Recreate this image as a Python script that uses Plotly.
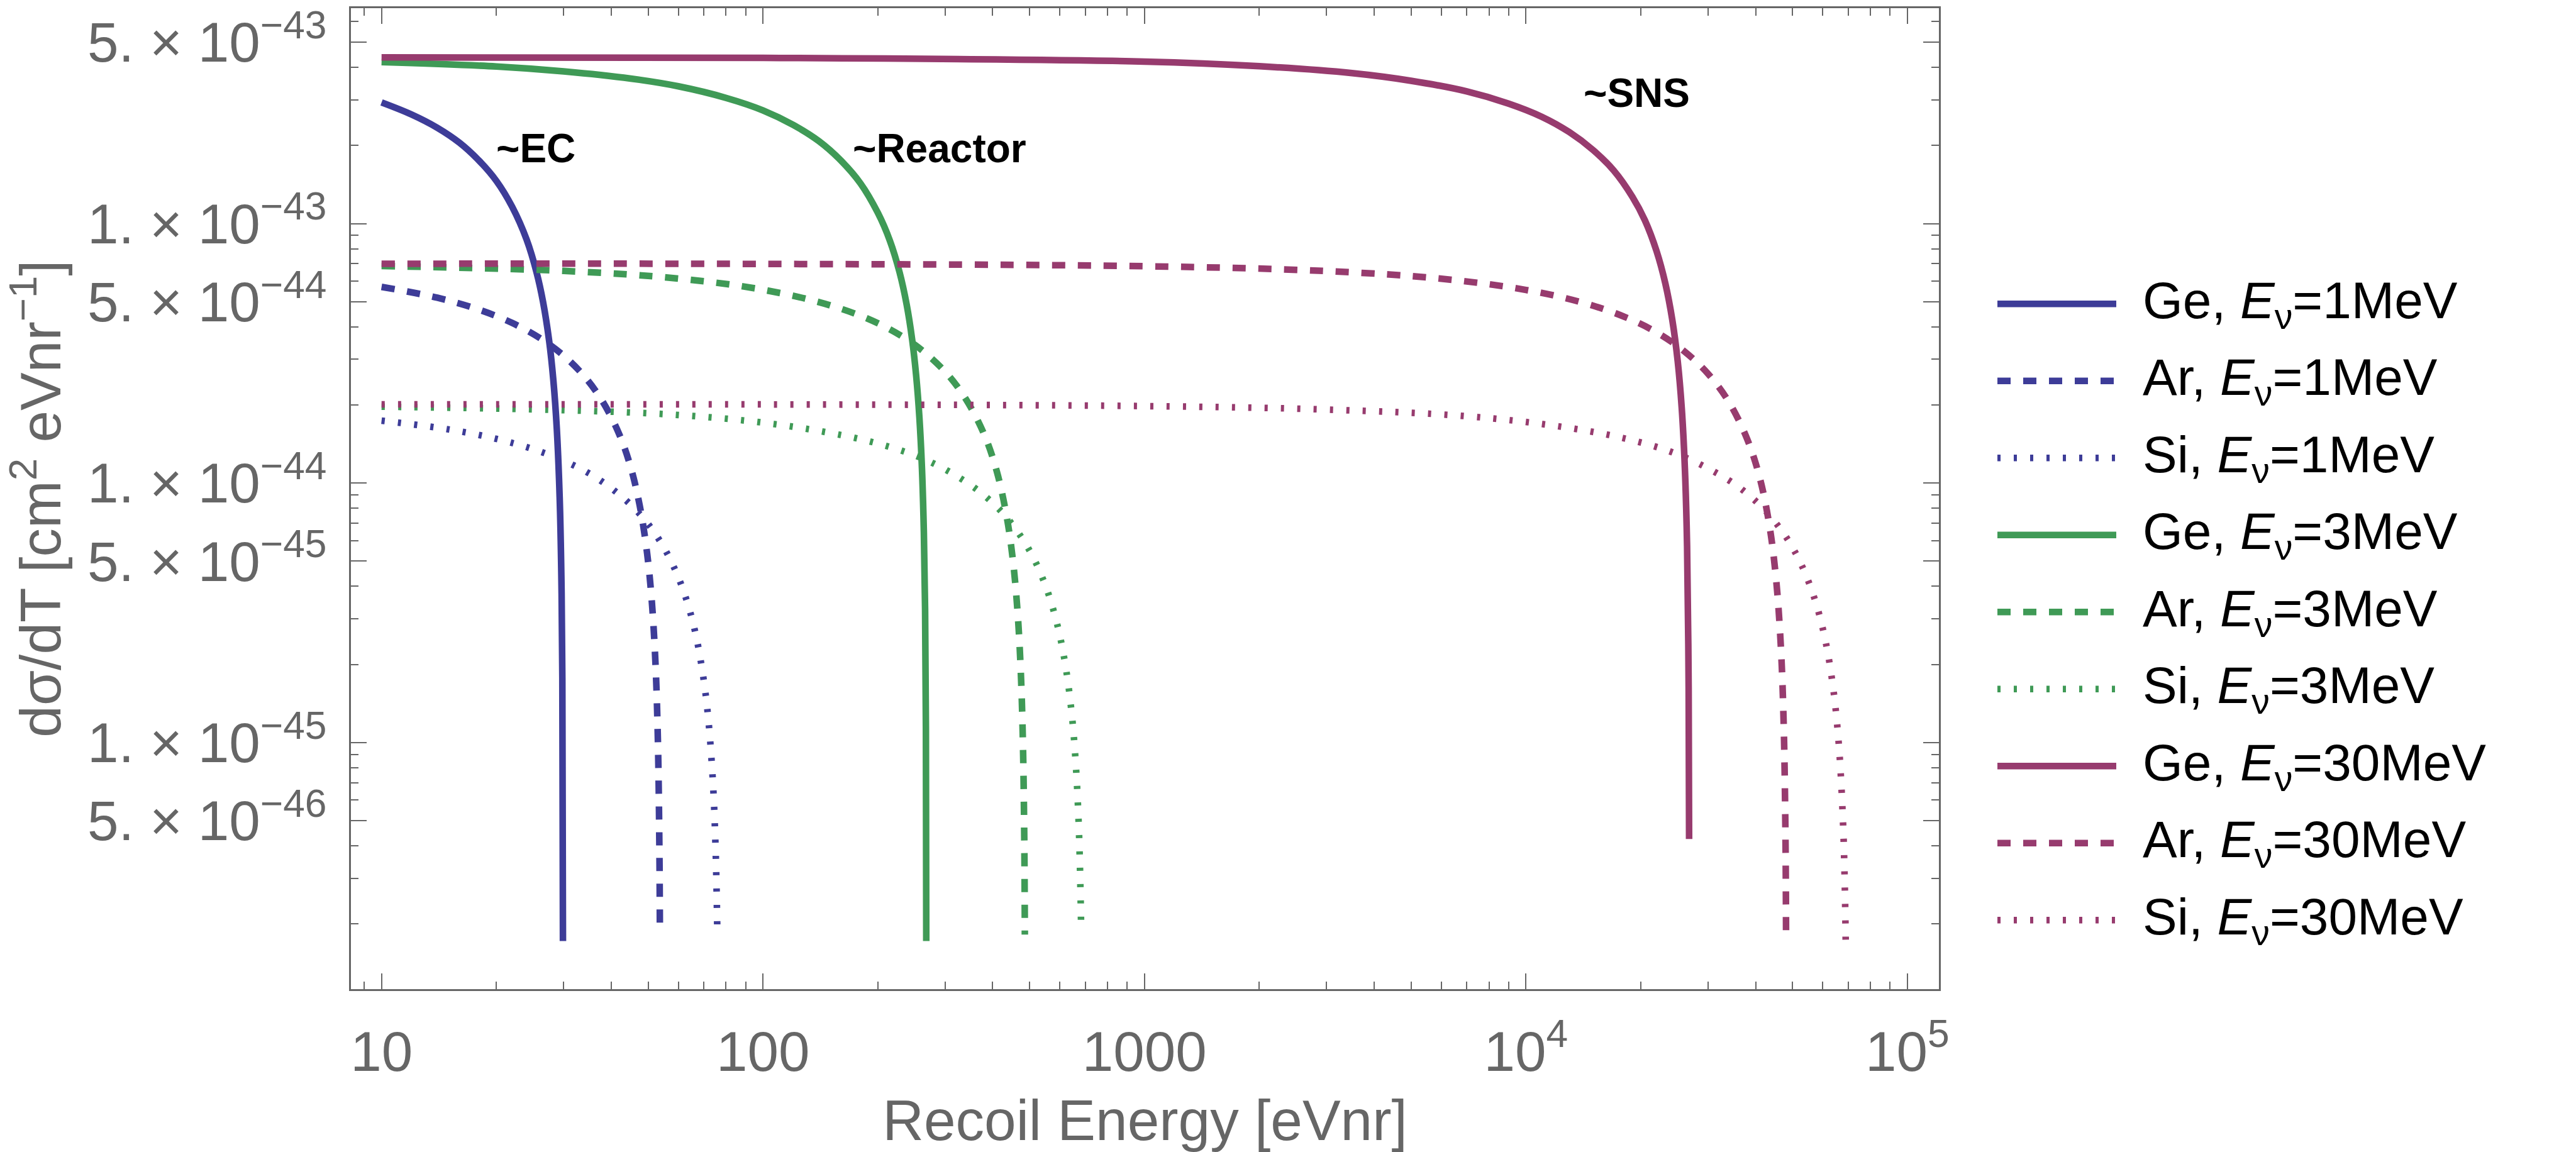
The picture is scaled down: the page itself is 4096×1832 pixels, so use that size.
import math
import plotly.graph_objects as go

# ---------------- data ----------------
# Recoil energy T [eVnr] and dsigma/dT [cm^2 eVnr^-1]
T_Ge_1MeV = [10, 12, 14, 16, 18, 20, 22, 24, 25.5, 26.5, 27.5, 28.2, 28.8, 29.3, 29.6, 29.78, 29.888]
S_Ge_1MeV = [2.93e-43, 2.63e-43, 2.34e-43, 2.05e-43, 1.75e-43, 1.46e-43, 1.16e-43, 8.68e-44, 6.47e-44, 5.00e-44,
             3.53e-44, 2.50e-44, 1.62e-44, 8.83e-45, 4.41e-45, 1.77e-45, 1.72e-46]

T_Ar_1MeV = [10, 14, 18, 22, 26, 30, 34, 38, 42, 45, 47.5, 49.5, 51, 52.2, 53, 53.5, 53.66]
S_Ar_1MeV = [5.70e-44, 5.18e-44, 4.66e-44, 4.14e-44, 3.62e-44, 3.10e-44, 2.58e-44, 2.06e-44, 1.54e-44, 1.15e-44,
             8.20e-45, 5.59e-45, 3.64e-45, 2.08e-45, 1.04e-45, 3.90e-46, 1.82e-46]

T_Si_1MeV = [10, 15, 20, 25, 30, 35, 40, 45, 50, 55, 60, 64, 67, 70, 72, 74, 75.2, 75.85]
S_Si_1MeV = [1.74e-44, 1.61e-44, 1.48e-44, 1.35e-44, 1.22e-44, 1.09e-44, 9.56e-45, 8.25e-45, 6.95e-45, 5.64e-45,
             4.33e-45, 3.29e-45, 2.51e-45, 1.72e-45, 1.20e-45, 6.79e-46, 3.66e-46, 1.96e-46]

T_Ge_3MeV = [10, 20, 30, 45, 60, 80, 100, 120, 140, 160, 180, 200, 215, 228, 238, 246, 252, 257, 261, 264, 266,
             267.3, 267.89]
S_Ge_3MeV = [4.19e-43, 4.03e-43, 3.86e-43, 3.62e-43, 3.38e-43, 3.05e-43, 2.73e-43, 2.40e-43, 2.08e-43, 1.75e-43,
             1.43e-43, 1.10e-43, 8.60e-44, 6.49e-44, 4.87e-44, 3.57e-44, 2.60e-44, 1.79e-44, 1.14e-44, 6.49e-45,
             3.25e-45, 1.14e-45, 1.72e-46]

T_Ar_3MeV = [10, 30, 60, 100, 150, 200, 250, 300, 340, 380, 410, 435, 452, 465, 474, 480, 484, 485.7]
S_Ar_3MeV = [6.86e-44, 6.57e-44, 6.14e-44, 5.56e-44, 4.84e-44, 4.13e-44, 3.41e-44, 2.69e-44, 2.11e-44, 1.54e-44,
             1.11e-44, 7.47e-45, 5.03e-45, 3.16e-45, 1.87e-45, 1.01e-45, 4.31e-46, 1.82e-46]

T_Si_3MeV = [10, 30, 60, 100, 150, 200, 260, 320, 380, 440, 500, 550, 590, 620, 645, 662, 674, 682.2]
S_Si_3MeV = [1.97e-44, 1.91e-44, 1.83e-44, 1.71e-44, 1.56e-44, 1.42e-44, 1.25e-44, 1.07e-44, 8.97e-45, 7.23e-45,
             5.49e-45, 4.03e-45, 2.87e-45, 2.00e-45, 1.28e-45, 7.84e-46, 4.35e-46, 1.96e-46]

T_Ge_30MeV = [10, 100, 1000, 2000, 3500, 5000, 7000, 9000, 11000, 13000, 15000, 17000, 19000, 20500, 22000,
              23200, 24200, 25000, 25600, 26100, 26450, 26700, 26774]
S_Ge_30MeV = [4.37e-43, 4.35e-43, 4.21e-43, 4.04e-43, 3.80e-43, 3.55e-43, 3.23e-43, 2.90e-43, 2.58e-43, 2.25e-43,
              1.92e-43, 1.60e-43, 1.27e-43, 1.03e-43, 7.83e-44, 5.87e-44, 4.24e-44, 2.94e-44, 1.96e-44, 1.14e-44,
              5.71e-45, 1.63e-45, 4.25e-46]

T_Ar_30MeV = [10, 100, 1000, 3000, 6000, 10000, 14000, 18000, 22000, 26000, 30000, 34000, 38000, 41000, 43500,
              45300, 46600, 47400, 47900, 48078]
S_Ar_30MeV = [7.00e-44, 6.99e-44, 6.85e-44, 6.56e-44, 6.13e-44, 5.55e-44, 4.97e-44, 4.39e-44, 3.81e-44, 3.22e-44,
              2.64e-44, 2.06e-44, 1.48e-44, 1.05e-44, 6.83e-45, 4.21e-45, 2.32e-45, 1.16e-45, 4.36e-46, 1.77e-46]

T_Si_30MeV = [10, 100, 1000, 3000, 7000, 12000, 18000, 24000, 30000, 36000, 42000, 48000, 53000, 57500, 61000,
              64000, 66200, 67800, 68500, 68898]
S_Si_30MeV = [2.01e-44, 2.01e-44, 1.98e-44, 1.92e-44, 1.81e-44, 1.66e-44, 1.49e-44, 1.32e-44, 1.14e-44, 9.69e-45,
              7.95e-45, 6.22e-45, 4.77e-45, 3.47e-45, 2.46e-45, 1.59e-45, 9.54e-46, 4.92e-46, 2.89e-46, 1.74e-46]

targets = ["Ge", "Ar", "Si"]
energies = ["1MeV", "3MeV", "30MeV"]
curves = {
    ("Ge", "1MeV"): (T_Ge_1MeV, S_Ge_1MeV), ("Ar", "1MeV"): (T_Ar_1MeV, S_Ar_1MeV), ("Si", "1MeV"): (T_Si_1MeV, S_Si_1MeV),
    ("Ge", "3MeV"): (T_Ge_3MeV, S_Ge_3MeV), ("Ar", "3MeV"): (T_Ar_3MeV, S_Ar_3MeV), ("Si", "3MeV"): (T_Si_3MeV, S_Si_3MeV),
    ("Ge", "30MeV"): (T_Ge_30MeV, S_Ge_30MeV), ("Ar", "30MeV"): (T_Ar_30MeV, S_Ar_30MeV), ("Si", "30MeV"): (T_Si_30MeV, S_Si_30MeV),
}

x_tickvals = [10, 100, 1000, 1e4, 1e5]
x_ticktext = ["10", "100", "1000", "10<sup>4</sup>", "10<sup>5</sup>"]
y_tickvals = [5e-46, 1e-45, 5e-45, 1e-44, 5e-44, 1e-43, 5e-43]
y_ticktext = ["5. \u00d7 10<sup>\u221246</sup>", "1. \u00d7 10<sup>\u221245</sup>", "5. \u00d7 10<sup>\u221245</sup>",
              "1. \u00d7 10<sup>\u221244</sup>", "5. \u00d7 10<sup>\u221244</sup>", "1. \u00d7 10<sup>\u221243</sup>",
              "5. \u00d7 10<sup>\u221243</sup>"]
annot_text = ["~EC", "~Reactor", "~SNS"]
annot_T = [25.4, 290.0, 19500.0]
annot_S = [1.95e-43, 1.95e-43, 3.18e-43]

# ---------------- styling ----------------
W, H = 4096, 1832
L_M, R_M, T_M, B_M = 558, 1013, 13, 259
PW = W - L_M - R_M
PH = H - T_M - B_M
GRAY = "#666666"
FONT = "Liberation Sans, Arial, Helvetica"
energy_color = {"1MeV": "#3D3C98", "3MeV": "#3F9A56", "30MeV": "#973B6E"}
target_dash = {"Ge": "solid", "Ar": "21px,20px", "Si": "5px,21px"}
LW = 10.5


def px_x(px):
    return (px - L_M) / PW


def px_y(py):
    return (H - B_M - py) / PH


fig = go.Figure()
for e in energies:
    for t in targets:
        xs, ys = curves[(t, e)]
        fig.add_trace(go.Scatter(
            x=xs, y=ys, mode="lines", showlegend=False,
            name=f"{t}, E={e}",
            line=dict(color=energy_color[e], width=LW, dash=target_dash[t], shape="spline", smoothing=1.0),
        ))

# legend drawn with long line samples, as in the reference
shapes = []
annotations = []
row0, drow = 483.3, 122.5
i = 0
for e in energies:
    for t in targets:
        yy = px_y(row0 + drow * i)
        shapes.append(dict(type="line", xref="paper", yref="paper",
                           x0=px_x(3176), x1=px_x(3365), y0=yy, y1=yy,
                           line=dict(color=energy_color[e], width=LW, dash=target_dash[t])))
        annotations.append(dict(xref="paper", yref="paper", x=px_x(3405), y=yy,
                                xanchor="left", yanchor="middle", showarrow=False,
                                text=f"{t}, <i>E</i><sub>\u03bd</sub>={e}",
                                font=dict(family=FONT, size=82, color="black")))
        i += 1

for txt, tx, sy in zip(annot_text, annot_T, annot_S):
    annotations.append(dict(x=math.log10(tx), y=math.log10(sy), xref="x", yref="y",
                            text=txt, showarrow=False, xanchor="center", yanchor="middle",
                            font=dict(family=FONT, size=64, color="black", weight="bold")))

x_minor = [k * 10 ** n for n in range(0, 5) for k in range(2, 10) if k * 10 ** n >= 9]
y_minor = [k * 10.0 ** n for n in range(-46, -42) for k in (2, 3, 4, 6, 7, 8, 9)
           if 1.13e-46 < k * 10.0 ** n < 6.7e-43]

axis_common = dict(
    showgrid=False, zeroline=False, showline=True, linecolor=GRAY, linewidth=2.5,
    mirror="allticks", ticks="inside", ticklen=25, tickwidth=2, tickcolor=GRAY,
    tickfont=dict(family=FONT, size=89, color=GRAY),
)

fig.update_layout(
    width=W, height=H,
    margin=dict(l=L_M, r=R_M, t=T_M, b=B_M, autoexpand=False),
    paper_bgcolor="white", plot_bgcolor="white",
    shapes=shapes, annotations=annotations,
    xaxis=dict(type="log", range=[0.9197, 5.0826], tickmode="array", tickvals=x_tickvals, ticktext=x_ticktext,
               ticklabelstandoff=20,
               minor=dict(tickmode="array", tickvals=x_minor, ticks="inside", ticklen=12, tickwidth=1.5,
                          tickcolor=GRAY, showgrid=False),
               title=dict(text="Recoil Energy [eVnr]", standoff=40,
                          font=dict(family=FONT, size=91, color=GRAY)),
               **axis_common),
    yaxis=dict(type="log", range=[-45.950, -42.170], tickmode="array", tickvals=y_tickvals, ticktext=y_ticktext,
               ticklabelstandoff=18,
               minor=dict(tickmode="array", tickvals=y_minor, ticks="inside", ticklen=12, tickwidth=1.5,
                          tickcolor=GRAY, showgrid=False),
               title=dict(text="d\u03c3/dT [cm<sup>2</sup> eVnr<sup>\u22121</sup>]", standoff=30,
                          font=dict(family=FONT, size=91, color=GRAY)),
               **axis_common),
)

fig.write_html("out.html")
